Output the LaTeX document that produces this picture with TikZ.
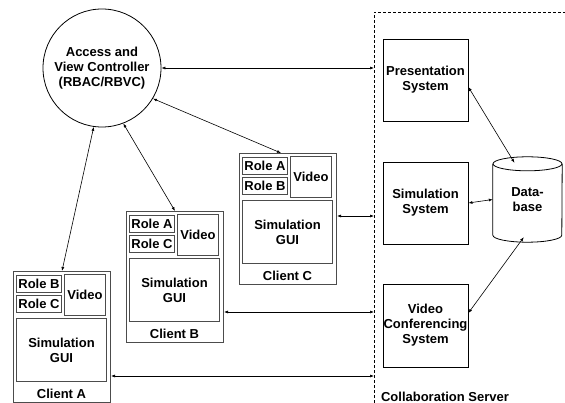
\documentclass[tikz,border=0pt]{standalone}
\usepackage{fontspec}
\setmainfont{Liberation Sans}
\usetikzlibrary{arrows.meta}
\tikzset{
  txt/.style={font=\fontsize{13}{15}\selectfont\bfseries, align=center},
  box/.style={txt, draw, line width=0.8pt, inner sep=0pt},
  client/.style={draw=black!70, line width=1pt, minimum width=97, minimum height=131, inner sep=0pt},
  part/.style={box, draw=black!70, line width=1pt},
  link/.style={line width=0.6pt, {Latex[length=4pt,width=3pt]}-{Latex[length=4pt,width=3pt]}}
}
\begin{document}
\begin{tikzpicture}[x=1pt,y=-1pt]
  \useasboundingbox (0,0) rectangle (565,403);
  % server area
  \draw[dash pattern=on 3pt off 2pt, line width=0.6pt] (374,403) -- (374,12) -- (565,12);
  \node[txt] (srvlabel) at (445,397) {Collaboration Server};
  \coordinate (sCtrl) at (374,68);
  \coordinate (sC) at (374,216);
  \coordinate (sB) at (374,312);
  \coordinate (sA) at (374,376);

  \node[box, circle, minimum size=118] (ctrl) at (102,68) {Access and\\View Controller\\(RBAC/RBVC)};

  % clients
  \foreach \c/\x/\y/\ra/\rb in {A/13/271/B/C, B/126/211/A/C, C/239/153/A/B} {
    \node[client, anchor=north west] (client\c) at (\x,\y) {};
    \node[part, anchor=north west, minimum width=45, minimum height=17] (roleone\c) at (\x+3,\y+4) {Role \ra};
    \node[part, anchor=north west, minimum width=45, minimum height=17] (roletwo\c) at (\x+3,\y+24) {Role \rb};
    \node[part, anchor=north west, minimum width=41, minimum height=41] (video\c) at (\x+51,\y+3) {Video};
    \node[part, anchor=north west, minimum width=90, minimum height=63] (gui\c) at (\x+3,\y+47) {Simulation\\GUI};
    \node[txt] (lbl\c) at (\x+48.5,\y+123) {Client \c};
  }

  % server systems
  \node[box, minimum width=85, minimum height=82] (pres) at (425.5,80) {Presentation\\System};
  \node[box, minimum width=85, minimum height=82] (sim) at (425.5,203) {Simulation\\System};
  \node[box, minimum width=85, minimum height=83] (vconf) at (425.5,325.5) {Video\\Conferencing\\System};
  % database cylinder
  \node[txt, inner sep=0pt, minimum width=69, minimum height=85] (db) at (527.5,199.5) {Data-\\base};
  \draw[line width=0.8pt] ([yshift=-7pt]db.north west) -- ([yshift=7pt]db.south west)
    arc[start angle=180, end angle=360, x radius=34.5pt, y radius=7pt] -- ([yshift=-7pt]db.north east);
  \draw[line width=0.8pt] ([yshift=-7pt]db.north) ellipse [x radius=34.5pt, y radius=7pt];

  % connections
  \draw[link] (ctrl) -- (sCtrl);
  \draw[link] (ctrl.262) -- (clientA.north);
  \draw[link] (ctrl.291) -- (clientB.north);
  \draw[link] (ctrl.329) -- ([xshift=-7pt]clientC.north);
  \draw[link] (clientC.east |- sC) -- (sC);
  \draw[link] (clientB.east |- sB) -- (sB);
  \draw[link] (clientA.east |- sA) -- (sA);
  \draw[link] ([yshift=-7pt]pres.east) -- ([yshift=-6pt]db.107);
  \draw[link] (sim.east) -- (db.west);
  \draw[link] ([yshift=12.5pt]vconf.east) -- ([yshift=5pt]db.265);
\end{tikzpicture}
\end{document}
